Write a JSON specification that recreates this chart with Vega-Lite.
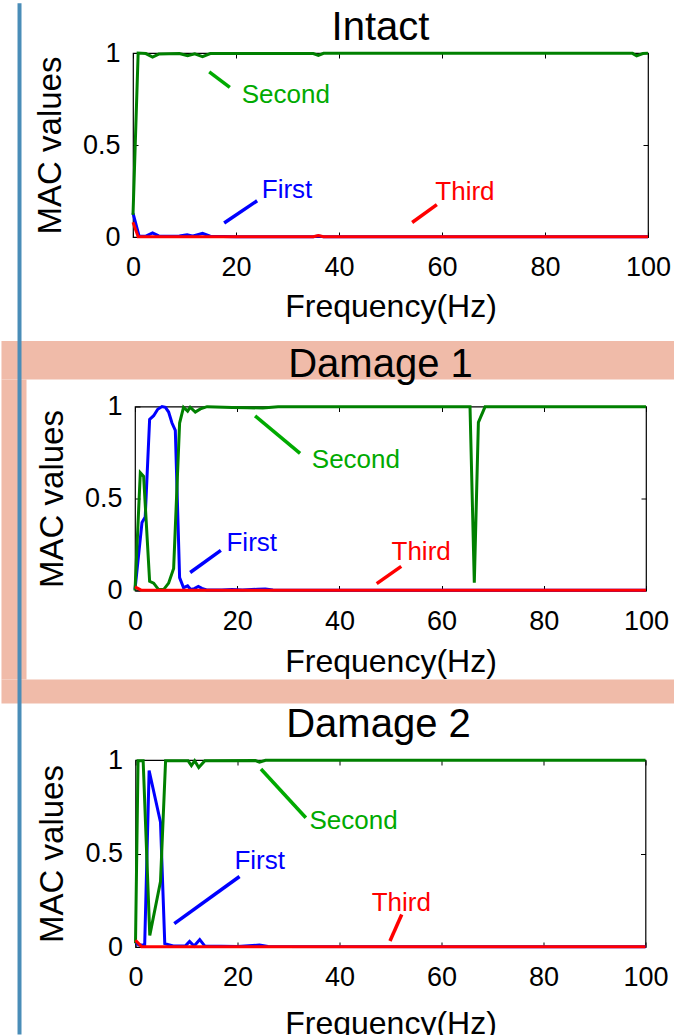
{
  "$schema": "https://vega.github.io/schema/vega-lite/v6.json",
  "padding": 0,
  "background": "white",
  "bounds": "flush",
  "center": true,
  "spacing": 169.5,
  "resolve": {"scale": {"x": "independent", "y": "independent", "color": "independent"}},
  "config": {
    "font": "Liberation Sans",
    "view": {"stroke": "#000000", "strokeWidth": 1.2},
    "axis": {"grid": false, "domain": false, "ticks": true, "tickSize": -5, "tickColor": "#000000", "tickWidth": 1, "labelFontSize": 27, "labelColor": "#000000", "labelPadding": 18, "titleFontSize": 32, "titleColor": "#000000", "titleFontWeight": "normal", "labelFlush": false, "labelOverlap": false, "labelFont": "Liberation Sans", "titleFont": "Liberation Sans"},
    "axisX": {"labelPadding": 22.5},
    "axisY": {"titleFontSize": 33},
    "title": {"fontSize": 40, "fontWeight": "normal", "color": "#000000", "anchor": "middle", "frame": "group", "baseline": "alphabetic", "font": "Liberation Sans"}
  },
  "datasets": {
    "curves": [
      {"panel":"Intact","mode":"First","freq":0,"mac":0.13},{"panel":"Intact","mode":"First","freq":1.2,"mac":0.004},{"panel":"Intact","mode":"First","freq":2.5,"mac":0.005},{"panel":"Intact","mode":"First","freq":3.8,"mac":0.022},{"panel":"Intact","mode":"First","freq":5,"mac":0.006},{"panel":"Intact","mode":"First","freq":7,"mac":0.004},{"panel":"Intact","mode":"First","freq":9,"mac":0.006},{"panel":"Intact","mode":"First","freq":10.5,"mac":0.012},{"panel":"Intact","mode":"First","freq":11.5,"mac":0.005},{"panel":"Intact","mode":"First","freq":13.5,"mac":0.02},{"panel":"Intact","mode":"First","freq":15,"mac":0.004},{"panel":"Intact","mode":"First","freq":20,"mac":0.002},{"panel":"Intact","mode":"First","freq":35,"mac":0.002},{"panel":"Intact","mode":"First","freq":36,"mac":0.006},{"panel":"Intact","mode":"First","freq":37,"mac":0.002},{"panel":"Intact","mode":"First","freq":100,"mac":0.002},
      {"panel":"Intact","mode":"Second","freq":0,"mac":0.12},{"panel":"Intact","mode":"Second","freq":1,"mac":1},{"panel":"Intact","mode":"Second","freq":2.5,"mac":0.997},{"panel":"Intact","mode":"Second","freq":3.8,"mac":0.978},{"panel":"Intact","mode":"Second","freq":5,"mac":0.994},{"panel":"Intact","mode":"Second","freq":9,"mac":0.997},{"panel":"Intact","mode":"Second","freq":10.6,"mac":0.985},{"panel":"Intact","mode":"Second","freq":12,"mac":0.995},{"panel":"Intact","mode":"Second","freq":13.5,"mac":0.98},{"panel":"Intact","mode":"Second","freq":15,"mac":0.997},{"panel":"Intact","mode":"Second","freq":35,"mac":0.997},{"panel":"Intact","mode":"Second","freq":36,"mac":0.987},{"panel":"Intact","mode":"Second","freq":37,"mac":0.998},{"panel":"Intact","mode":"Second","freq":97,"mac":0.998},{"panel":"Intact","mode":"Second","freq":97.8,"mac":0.984},{"panel":"Intact","mode":"Second","freq":99,"mac":0.997},{"panel":"Intact","mode":"Second","freq":100,"mac":0.999},
      {"panel":"Intact","mode":"Third","freq":0,"mac":0.08},{"panel":"Intact","mode":"Third","freq":1,"mac":0.001},{"panel":"Intact","mode":"Third","freq":35,"mac":0.001},{"panel":"Intact","mode":"Third","freq":36,"mac":0.008},{"panel":"Intact","mode":"Third","freq":37,"mac":0.001},{"panel":"Intact","mode":"Third","freq":100,"mac":0.001},
      {"panel":"Damage 1","mode":"First","freq":0,"mac":0.005},{"panel":"Damage 1","mode":"First","freq":1.37,"mac":0.37},{"panel":"Damage 1","mode":"First","freq":2,"mac":0.4},{"panel":"Damage 1","mode":"First","freq":2.86,"mac":0.93},{"panel":"Damage 1","mode":"First","freq":3.65,"mac":0.95},{"panel":"Damage 1","mode":"First","freq":4.45,"mac":0.985},{"panel":"Damage 1","mode":"First","freq":5.28,"mac":1.0},{"panel":"Damage 1","mode":"First","freq":5.95,"mac":0.995},{"panel":"Damage 1","mode":"First","freq":6.58,"mac":0.97},{"panel":"Damage 1","mode":"First","freq":7.24,"mac":0.91},{"panel":"Damage 1","mode":"First","freq":7.89,"mac":0.87},{"panel":"Damage 1","mode":"First","freq":8.73,"mac":0.07},{"panel":"Damage 1","mode":"First","freq":9.5,"mac":0.015},{"panel":"Damage 1","mode":"First","freq":10.3,"mac":0.025},{"panel":"Damage 1","mode":"First","freq":10.9,"mac":0.006},{"panel":"Damage 1","mode":"First","freq":11.6,"mac":0.01},{"panel":"Damage 1","mode":"First","freq":12.4,"mac":0.022},{"panel":"Damage 1","mode":"First","freq":13.1,"mac":0.012},{"panel":"Damage 1","mode":"First","freq":14,"mac":0.003},{"panel":"Damage 1","mode":"First","freq":17,"mac":0.003},{"panel":"Damage 1","mode":"First","freq":19,"mac":0.006},{"panel":"Damage 1","mode":"First","freq":21,"mac":0.003},{"panel":"Damage 1","mode":"First","freq":24,"mac":0.007},{"panel":"Damage 1","mode":"First","freq":25.5,"mac":0.008},{"panel":"Damage 1","mode":"First","freq":27,"mac":0.003},{"panel":"Damage 1","mode":"First","freq":35,"mac":0.002},{"panel":"Damage 1","mode":"First","freq":100,"mac":0.001},
      {"panel":"Damage 1","mode":"Second","freq":0,"mac":0.0},{"panel":"Damage 1","mode":"Second","freq":1.04,"mac":0.64},{"panel":"Damage 1","mode":"Second","freq":1.69,"mac":0.62},{"panel":"Damage 1","mode":"Second","freq":2.86,"mac":0.05},{"panel":"Damage 1","mode":"Second","freq":3.65,"mac":0.04},{"panel":"Damage 1","mode":"Second","freq":4.62,"mac":0.005},{"panel":"Damage 1","mode":"Second","freq":5.6,"mac":0.005},{"panel":"Damage 1","mode":"Second","freq":6.58,"mac":0.04},{"panel":"Damage 1","mode":"Second","freq":7.56,"mac":0.12},{"panel":"Damage 1","mode":"Second","freq":8.73,"mac":0.91},{"panel":"Damage 1","mode":"Second","freq":9.5,"mac":0.996},{"panel":"Damage 1","mode":"Second","freq":10.3,"mac":0.975},{"panel":"Damage 1","mode":"Second","freq":10.8,"mac":0.996},{"panel":"Damage 1","mode":"Second","freq":11.8,"mac":0.97},{"panel":"Damage 1","mode":"Second","freq":12.8,"mac":0.987},{"panel":"Damage 1","mode":"Second","freq":14.1,"mac":0.999},{"panel":"Damage 1","mode":"Second","freq":19,"mac":0.995},{"panel":"Damage 1","mode":"Second","freq":22,"mac":0.993},{"panel":"Damage 1","mode":"Second","freq":25,"mac":0.992},{"panel":"Damage 1","mode":"Second","freq":28,"mac":0.998},{"panel":"Damage 1","mode":"Second","freq":65.56,"mac":0.999},{"panel":"Damage 1","mode":"Second","freq":66.4,"mac":0.042},{"panel":"Damage 1","mode":"Second","freq":67.2,"mac":0.914},{"panel":"Damage 1","mode":"Second","freq":68.5,"mac":0.998},{"panel":"Damage 1","mode":"Second","freq":100,"mac":0.999},
      {"panel":"Damage 1","mode":"Third","freq":0,"mac":0.02},{"panel":"Damage 1","mode":"Third","freq":1.2,"mac":0.002},{"panel":"Damage 1","mode":"Third","freq":100,"mac":0.001},
      {"panel":"Damage 2","mode":"First","freq":0,"mac":0.03},{"panel":"Damage 2","mode":"First","freq":0.6,"mac":0.012},{"panel":"Damage 2","mode":"First","freq":1.8,"mac":0.01},{"panel":"Damage 2","mode":"First","freq":2.67,"mac":0.943},{"panel":"Damage 2","mode":"First","freq":4.9,"mac":0.667},{"panel":"Damage 2","mode":"First","freq":5.74,"mac":0.018},{"panel":"Damage 2","mode":"First","freq":7.4,"mac":0.005},{"panel":"Damage 2","mode":"First","freq":9.8,"mac":0.006},{"panel":"Damage 2","mode":"First","freq":10.6,"mac":0.03},{"panel":"Damage 2","mode":"First","freq":11.5,"mac":0.005},{"panel":"Damage 2","mode":"First","freq":12.6,"mac":0.04},{"panel":"Damage 2","mode":"First","freq":13.6,"mac":0.005},{"panel":"Damage 2","mode":"First","freq":20,"mac":0.003},{"panel":"Damage 2","mode":"First","freq":24.3,"mac":0.01},{"panel":"Damage 2","mode":"First","freq":26,"mac":0.003},{"panel":"Damage 2","mode":"First","freq":100,"mac":0.001},
      {"panel":"Damage 2","mode":"Second","freq":0,"mac":0.02},{"panel":"Damage 2","mode":"Second","freq":0.5,"mac":0.996},{"panel":"Damage 2","mode":"Second","freq":1.5,"mac":0.996},{"panel":"Damage 2","mode":"Second","freq":2.8,"mac":0.062},{"panel":"Damage 2","mode":"Second","freq":4.9,"mac":0.35},{"panel":"Damage 2","mode":"Second","freq":5.9,"mac":0.996},{"panel":"Damage 2","mode":"Second","freq":10.3,"mac":0.996},{"panel":"Damage 2","mode":"Second","freq":10.96,"mac":0.97},{"panel":"Damage 2","mode":"Second","freq":11.6,"mac":0.996},{"panel":"Damage 2","mode":"Second","freq":12.4,"mac":0.96},{"panel":"Damage 2","mode":"Second","freq":13.6,"mac":0.996},{"panel":"Damage 2","mode":"Second","freq":23.5,"mac":0.997},{"panel":"Damage 2","mode":"Second","freq":24.3,"mac":0.988},{"panel":"Damage 2","mode":"Second","freq":25.5,"mac":0.998},{"panel":"Damage 2","mode":"Second","freq":100,"mac":0.999},
      {"panel":"Damage 2","mode":"Third","freq":0,"mac":0.036},{"panel":"Damage 2","mode":"Third","freq":1.2,"mac":0.002},{"panel":"Damage 2","mode":"Third","freq":100,"mac":0.001}
    ],
    "notes": [
      {"panel":"Intact","mode":"Second","x":14.8,"y":0.897,"x2":18.8,"y2":0.813,"tx":21.1,"ty":0.73},
      {"panel":"Intact","mode":"First","x":17.7,"y":0.076,"x2":24.1,"y2":0.197,"tx":25.0,"ty":0.212},
      {"panel":"Intact","mode":"Third","x":54.2,"y":0.079,"x2":59.0,"y2":0.176,"tx":58.7,"ty":0.203},
      {"panel":"Damage 1","mode":"Second","x":23.5,"y":0.949,"x2":32.3,"y2":0.745,"tx":34.6,"ty":0.667},
      {"panel":"Damage 1","mode":"First","x":10.8,"y":0.098,"x2":16.8,"y2":0.218,"tx":17.9,"ty":0.213},
      {"panel":"Damage 1","mode":"Third","x":47.3,"y":0.037,"x2":52.1,"y2":0.131,"tx":50.2,"ty":0.164},
      {"panel":"Damage 2","mode":"Second","x":24.6,"y":0.952,"x2":33.4,"y2":0.691,"tx":34.1,"ty":0.632},
      {"panel":"Damage 2","mode":"First","x":7.6,"y":0.125,"x2":20.4,"y2":0.377,"tx":19.4,"ty":0.418},
      {"panel":"Damage 2","mode":"Third","x":49.9,"y":0.032,"x2":52.2,"y2":0.174,"tx":46.3,"ty":0.19}
    ]
  },
  "vconcat": [
    {
      "title": {"text": "Intact", "offset": -9, "dx": -10},
      "width": 515, "height": 184,
      "resolve": {"scale": {"color": "independent"}, "axis": {"x": "independent", "y": "independent"}},
      "layer": [
        {
          "data": {"name": "curves"},
          "transform": [{"filter": "datum.panel === 'Intact'"}],
          "mark": {"type": "line", "strokeWidth": 3},
          "encoding": {
            "x": {"field": "freq", "type": "quantitative", "scale": {"domain": [0, 100], "nice": false, "zero": false}, "axis": {"orient": "bottom", "values": [0, 20, 40, 60, 80, 100], "title": "Frequency(Hz)", "titlePadding": 11}},
            "y": {"field": "mac", "type": "quantitative", "scale": {"domain": [0, 1], "nice": false}, "axis": {"orient": "left", "values": [0, 0.5, 1], "format": "~g", "title": "MAC values", "titlePadding": 15}},
            "color": {"field": "mode", "type": "nominal", "scale": {"domain": ["First", "Second", "Third"], "range": ["#0000ff", "#008000", "#ff0000"]}, "legend": null}
          }
        },
        {
          "data": {"name": "notes"},
          "transform": [{"filter": "datum.panel === 'Intact'"}],
          "mark": {"type": "rule", "strokeWidth": 3.5},
          "encoding": {
            "x": {"field": "x", "type": "quantitative", "scale": {"domain": [0, 100], "nice": false, "zero": false}, "axis": {"orient": "top", "values": [0, 20, 40, 60, 80, 100], "labels": false, "title": null}},
            "y": {"field": "y", "type": "quantitative", "scale": {"domain": [0, 1], "nice": false}, "axis": {"orient": "right", "values": [0, 0.5, 1], "labels": false, "title": null}},
            "x2": {"field": "x2"}, "y2": {"field": "y2"},
            "color": {"field": "mode", "type": "nominal", "scale": {"domain": ["First", "Second", "Third"], "range": ["#0000ff", "#00aa00", "#ff0000"]}, "legend": null}
          }
        },
        {
          "data": {"name": "notes"},
          "transform": [{"filter": "datum.panel === 'Intact'"}],
          "mark": {"type": "text", "align": "left", "baseline": "alphabetic", "fontSize": 26},
          "encoding": {
            "x": {"field": "tx", "type": "quantitative", "scale": {"domain": [0, 100], "nice": false, "zero": false}, "axis": null},
            "y": {"field": "ty", "type": "quantitative", "scale": {"domain": [0, 1], "nice": false}, "axis": null},
            "text": {"field": "mode"},
            "color": {"field": "mode", "type": "nominal", "scale": {"domain": ["First", "Second", "Third"], "range": ["#0000ff", "#00aa00", "#ff0000"]}, "legend": null}
          }
        }
      ]
    },
    {
      "title": {"text": "Damage 1", "offset": -383.5, "dx": -10},
      "width": 511, "height": 184,
      "resolve": {"scale": {"color": "independent"}, "axis": {"x": "independent", "y": "independent"}},
      "layer": [
        {
          "data": {"values": [{}]},
          "mark": {"type": "rect", "color": "#f0bba9"},
          "encoding": {
            "x": {"datum": -26.13, "type": "quantitative", "scale": {"domain": [0, 100], "nice": false, "zero": false}, "axis": null},
            "x2": {"datum": 105.8},
            "y": {"datum": 1.356, "type": "quantitative", "scale": {"domain": [0, 1], "nice": false}, "axis": null},
            "y2": {"datum": 1.147}
          }
        },
        {
          "data": {"values": [{}]},
          "mark": {"type": "rect", "color": "#f0bba9"},
          "encoding": {
            "x": {"datum": -26.13, "type": "quantitative", "scale": {"domain": [0, 100], "nice": false, "zero": false}, "axis": null},
            "x2": {"datum": 105.8},
            "y": {"datum": -0.484, "type": "quantitative", "scale": {"domain": [0, 1], "nice": false}, "axis": null},
            "y2": {"datum": -0.614}
          }
        },
        {
          "data": {"values": [{}]},
          "mark": {"type": "rect", "color": "#f0bba9"},
          "encoding": {
            "x": {"datum": -26.13, "type": "quantitative", "scale": {"domain": [0, 100], "nice": false, "zero": false}, "axis": null},
            "x2": {"datum": -21.23},
            "y": {"datum": 1.147, "type": "quantitative", "scale": {"domain": [0, 1], "nice": false}, "axis": null},
            "y2": {"datum": -0.484}
          }
        },
        {
          "data": {"values": [{}]},
          "mark": {"type": "rule", "color": "#4a8db8", "strokeWidth": 4},
          "encoding": {
            "x": {"datum": -22.6, "type": "quantitative", "scale": {"domain": [0, 100], "nice": false, "zero": false}, "axis": null},
            "y": {"datum": 3.192, "type": "quantitative", "scale": {"domain": [0, 1], "nice": false}, "axis": null},
            "y2": {"datum": -2.413}
          }
        },
        {
          "data": {"name": "curves"},
          "transform": [{"filter": "datum.panel === 'Damage 1'"}],
          "mark": {"type": "line", "strokeWidth": 3},
          "encoding": {
            "x": {"field": "freq", "type": "quantitative", "scale": {"domain": [0, 100], "nice": false, "zero": false}, "axis": {"orient": "bottom", "values": [0, 20, 40, 60, 80, 100], "title": "Frequency(Hz)", "titlePadding": 12.5}},
            "y": {"field": "mac", "type": "quantitative", "scale": {"domain": [0, 1], "nice": false}, "axis": {"orient": "left", "values": [0, 0.5, 1], "format": "~g", "title": "MAC values", "titlePadding": 15}},
            "color": {"field": "mode", "type": "nominal", "scale": {"domain": ["First", "Second", "Third"], "range": ["#0000ff", "#008000", "#ff0000"]}, "legend": null}
          }
        },
        {
          "data": {"name": "notes"},
          "transform": [{"filter": "datum.panel === 'Damage 1'"}],
          "mark": {"type": "rule", "strokeWidth": 3.5},
          "encoding": {
            "x": {"field": "x", "type": "quantitative", "scale": {"domain": [0, 100], "nice": false, "zero": false}, "axis": {"orient": "top", "values": [0, 20, 40, 60, 80, 100], "labels": false, "title": null}},
            "y": {"field": "y", "type": "quantitative", "scale": {"domain": [0, 1], "nice": false}, "axis": {"orient": "right", "values": [0, 0.5, 1], "labels": false, "title": null}},
            "x2": {"field": "x2"}, "y2": {"field": "y2"},
            "color": {"field": "mode", "type": "nominal", "scale": {"domain": ["First", "Second", "Third"], "range": ["#0000ff", "#00aa00", "#ff0000"]}, "legend": null}
          }
        },
        {
          "data": {"name": "notes"},
          "transform": [{"filter": "datum.panel === 'Damage 1'"}],
          "mark": {"type": "text", "align": "left", "baseline": "alphabetic", "fontSize": 26},
          "encoding": {
            "x": {"field": "tx", "type": "quantitative", "scale": {"domain": [0, 100], "nice": false, "zero": false}, "axis": null},
            "y": {"field": "ty", "type": "quantitative", "scale": {"domain": [0, 1], "nice": false}, "axis": null},
            "text": {"field": "mode"},
            "color": {"field": "mode", "type": "nominal", "scale": {"domain": ["First", "Second", "Third"], "range": ["#0000ff", "#00aa00", "#ff0000"]}, "legend": null}
          }
        }
      ]
    },
    {
      "title": {"text": "Damage 2", "offset": 1, "dx": -12},
      "width": 510, "height": 187,
      "resolve": {"scale": {"color": "independent"}, "axis": {"x": "independent", "y": "independent"}},
      "layer": [
        {
          "data": {"name": "curves"},
          "transform": [{"filter": "datum.panel === 'Damage 2'"}],
          "mark": {"type": "line", "strokeWidth": 3},
          "encoding": {
            "x": {"field": "freq", "type": "quantitative", "scale": {"domain": [0, 100], "nice": false, "zero": false}, "axis": {"orient": "bottom", "values": [0, 20, 40, 60, 80, 100], "title": "Frequency(Hz)", "titlePadding": 18}},
            "y": {"field": "mac", "type": "quantitative", "scale": {"domain": [0, 1], "nice": false}, "axis": {"orient": "left", "values": [0, 0.5, 1], "format": "~g", "title": "MAC values", "titlePadding": 15}},
            "color": {"field": "mode", "type": "nominal", "scale": {"domain": ["First", "Second", "Third"], "range": ["#0000ff", "#008000", "#ff0000"]}, "legend": null}
          }
        },
        {
          "data": {"name": "notes"},
          "transform": [{"filter": "datum.panel === 'Damage 2'"}],
          "mark": {"type": "rule", "strokeWidth": 3.5},
          "encoding": {
            "x": {"field": "x", "type": "quantitative", "scale": {"domain": [0, 100], "nice": false, "zero": false}, "axis": {"orient": "top", "values": [0, 20, 40, 60, 80, 100], "labels": false, "title": null}},
            "y": {"field": "y", "type": "quantitative", "scale": {"domain": [0, 1], "nice": false}, "axis": {"orient": "right", "values": [0, 0.5, 1], "labels": false, "title": null}},
            "x2": {"field": "x2"}, "y2": {"field": "y2"},
            "color": {"field": "mode", "type": "nominal", "scale": {"domain": ["First", "Second", "Third"], "range": ["#0000ff", "#00aa00", "#ff0000"]}, "legend": null}
          }
        },
        {
          "data": {"name": "notes"},
          "transform": [{"filter": "datum.panel === 'Damage 2'"}],
          "mark": {"type": "text", "align": "left", "baseline": "alphabetic", "fontSize": 26},
          "encoding": {
            "x": {"field": "tx", "type": "quantitative", "scale": {"domain": [0, 100], "nice": false, "zero": false}, "axis": null},
            "y": {"field": "ty", "type": "quantitative", "scale": {"domain": [0, 1], "nice": false}, "axis": null},
            "text": {"field": "mode"},
            "color": {"field": "mode", "type": "nominal", "scale": {"domain": ["First", "Second", "Third"], "range": ["#0000ff", "#00aa00", "#ff0000"]}, "legend": null}
          }
        }
      ]
    }
  ]
}
